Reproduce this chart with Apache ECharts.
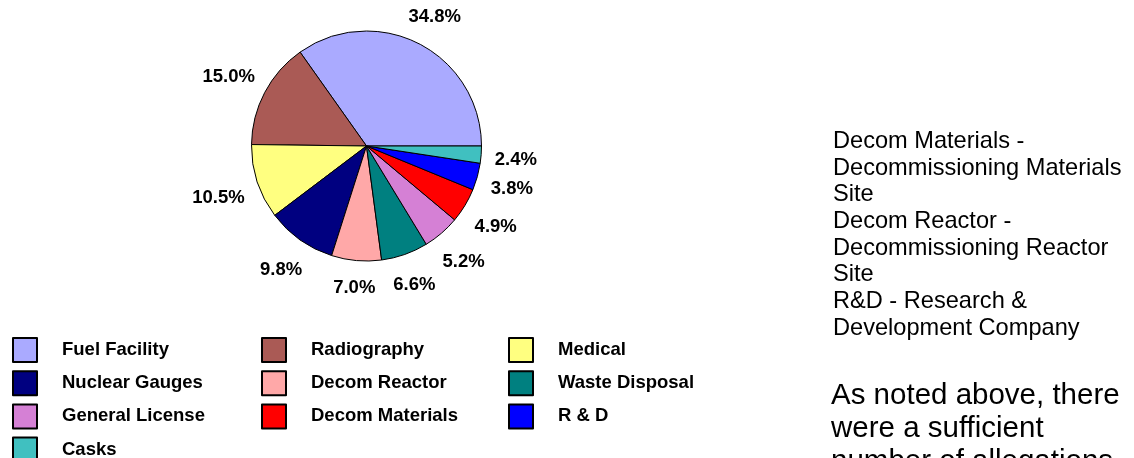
<!DOCTYPE html>
<html>
<head>
<meta charset="utf-8">
<script src="https://cdn.jsdelivr.net/npm/echarts@6/dist/echarts.min.js"></script>
<style>
  html, body { margin: 0; padding: 0; background: #fff; }
  #chart { width: 1134px; height: 458px; }
</style>
</head>
<body>
<div id="chart"></div>
<script>
// categories + shares (percent)
const categories = ['Fuel Facility', 'Radiography', 'Medical', 'Nuclear Gauges', 'Decom Reactor',
  'Waste Disposal', 'General License', 'Decom Materials', 'R & D', 'Casks'];
const shares = [34.8, 15.0, 10.5, 9.8, 7.0, 6.6, 5.2, 4.9, 3.8, 2.4];
const colors = ['#AAAAFF', '#AA5A55', '#FFFF80', '#000080', '#FFA8A8',
  '#008080', '#D580D5', '#FF0000', '#0000FF', '#40C0C0'];

const noteLines = ['Decom Materials -', 'Decommissioning Materials', 'Site',
  'Decom Reactor -', 'Decommissioning Reactor', 'Site',
  'R&D - Research &', 'Development Company'];
const bodyLines = ['As noted above, there', 'were a sufficient', 'number of allegations'];

const font = "'Liberation Sans', Arial, sans-serif";

const cx = 366.5, cy = 146, radius = 115;
const total = shares.reduce((a, b) => a + b, 0);

// mid angle (deg, counter-clockwise from 3 o'clock) of each slice
const midAngles = [];
let acc = 0;
shares.forEach(v => {
  midAngles.push((acc + v / 2) / total * 360);
  acc += v;
});

// legend is laid out row by row in 3 columns -> one vertical legend per column
const legendCols = [0, 1, 2].map(c => categories.filter((_, i) => i % 3 === c));
const colLeft = [12, 261, 508];

const chart = echarts.init(document.getElementById('chart'));

const option = {
  animation: false,
  color: colors,
  legend: legendCols.map((names, c) => ({
    orient: 'vertical',
    left: colLeft[c],
    top: 337,
    height: 150,
    padding: 0,
    itemGap: 7.2,
    itemWidth: 24,
    itemHeight: 24,
    icon: 'rect',
    selectedMode: false,
    data: names,
    textStyle: {
      fontFamily: font,
      fontSize: 18.5,
      fontWeight: 'bold',
      lineHeight: 20,
      color: '#000',
      padding: [0, 0, 0, 20]
    }
  })),
  graphic: [
    {
      type: 'text',
      left: 833,
      top: 128,
      style: {
        text: noteLines.join('\n'),
        font: '23.6px ' + font,
        lineHeight: 26.7,
        fill: '#000'
      }
    },
    {
      type: 'text',
      left: 831,
      top: 379,
      style: {
        text: bodyLines.join('\n'),
        font: '29.5px ' + font,
        lineHeight: 33,
        fill: '#000'
      }
    }
  ],
  series: [
    {
      type: 'pie',
      center: [cx, cy],
      radius: radius,
      startAngle: 0,
      clockwise: false,
      avoidLabelOverlap: false,
      itemStyle: {
        borderColor: '#000',
        borderWidth: 1
      },
      label: {
        show: true,
        position: 'outside',
        formatter: (p) => p.value.toFixed(1) + '%',
        fontFamily: font,
        fontSize: 18.5,
        fontWeight: 'bold',
        color: '#000'
      },
      labelLine: { show: false, length: 14, length2: 0 },
      // push each label out along its slice bisector, box just clear of the rim
      labelLayout: function (p) {
        const a = midAngles[p.dataIndex] * Math.PI / 180;
        const c = Math.cos(a), s = Math.sin(a);
        const d = radius + 13 + Math.abs(c) * p.labelRect.width / 2 + Math.abs(s) * p.labelRect.height / 2;
        return {
          x: cx + d * c,
          y: cy - d * s + 3,
          align: 'center',
          verticalAlign: 'middle'
        };
      },
      data: categories.map((name, i) => ({ name: name, value: shares[i] }))
    }
  ]
};

chart.setOption(option);
</script>
</body>
</html>
